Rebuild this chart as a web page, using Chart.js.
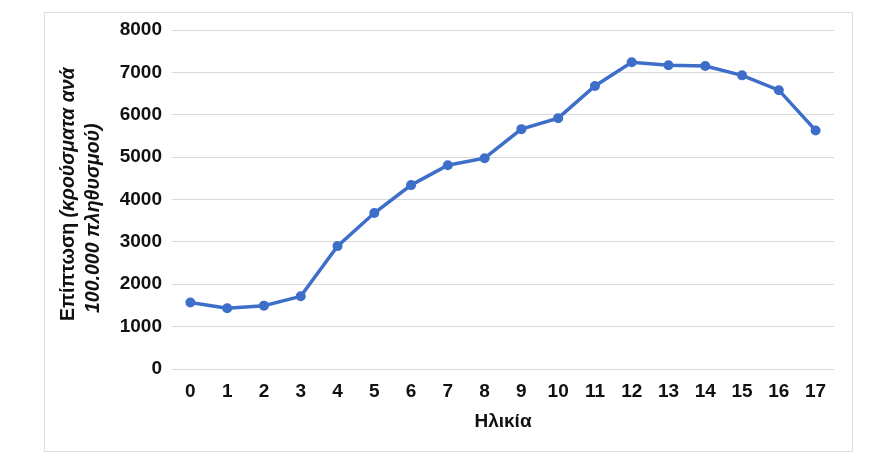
<!DOCTYPE html>
<html>
<head>
<meta charset="utf-8">
<script src="https://cdn.jsdelivr.net/npm/chart.js@4/dist/chart.umd.min.js"></script>
<style>
  body { margin: 0; background: #fff; }
  #wrap { position: relative; width: 894px; height: 454px; }
  #frame { position: absolute; left: 44px; top: 12px; width: 807px; height: 438px; border: 1px solid #dedede; }
  #wrap canvas { position: absolute; left: 0; top: 0; }
</style>
</head>
<body>
<div id="wrap">
  <div id="frame"></div>
  <canvas id="myChart"></canvas>
</div>
<script>
const ages = ['0','1','2','3','4','5','6','7','8','9','10','11','12','13','14','15','16','17'];
const incidence = [1570, 1435, 1495, 1715, 2900, 3680, 4340, 4810, 4975, 5660, 5920, 6680, 7240, 7170, 7150, 6930, 6580, 5630];
const yTicks = [0, 1000, 2000, 3000, 4000, 5000, 6000, 7000, 8000];

const xTitle = 'Ηλικία';
const yTitleStart = 'Επίπτωση ';
const yTitleRest = '(κρούσματα ανά';
const yTitleLine2 = '100.000 πληθυσμού)';

const blue = '#3d6ec9';
const tickFont = { family: 'Liberation Sans', size: 19, weight: 'bold' };

// y axis title has mixed upright / italic parts, so draw it by hand
const yTitlePlugin = {
  id: 'yTitle',
  afterDraw(chart) {
    const ctx = chart.ctx;
    ctx.save();
    ctx.fillStyle = '#111';
    ctx.textBaseline = 'middle';
    ctx.textAlign = 'left';

    ctx.translate(69, 321);
    ctx.rotate(-Math.PI / 2);
    ctx.font = 'bold 19.5px "Liberation Sans"';
    ctx.fillText(yTitleStart, 0, 0);
    const w = ctx.measureText(yTitleStart).width;
    ctx.font = 'italic bold 19.5px "Liberation Sans"';
    ctx.fillText(yTitleRest, w, 0);
    ctx.restore();

    ctx.save();
    ctx.fillStyle = '#111';
    ctx.textBaseline = 'middle';
    ctx.textAlign = 'left';
    ctx.translate(94, 313);
    ctx.rotate(-Math.PI / 2);
    ctx.font = 'italic bold 19.5px "Liberation Sans"';
    ctx.fillText(yTitleLine2, 0, 0);
    ctx.restore();
  }
};

new Chart(document.getElementById('myChart').getContext('2d'), {
  type: 'line',
  data: {
    labels: ages,
    datasets: [
      {
        data: incidence,
        borderColor: blue,
        backgroundColor: blue,
        borderWidth: 3.5,
        pointRadius: 5,
        pointBorderWidth: 0,
        pointBackgroundColor: blue,
        tension: 0,
        fill: false
      }
    ]
  },
  options: {
    responsive: true,
    maintainAspectRatio: false,
    animation: false,
    layout: {
      padding: { left: 0, right: 60, top: 30, bottom: 0 }
    },
    plugins: {
      legend: { display: false },
      tooltip: { enabled: false }
    },
    scales: {
      x: {
        offset: true,
        grid: { display: false, drawTicks: false },
        border: { display: false },
        ticks: { color: '#111', font: tickFont, padding: 11, maxRotation: 0 },
        title: {
          display: true,
          text: xTitle,
          color: '#111',
          font: { family: 'Liberation Sans', size: 19, weight: 'bold' },
          padding: { top: 0, bottom: 21 }
        },
        afterFit(scale) { scale.height = 85; }
      },
      y: {
        min: 0,
        max: 8000,
        afterBuildTicks(scale) { scale.ticks = yTicks.map(v => ({ value: v })); },
        grid: { color: '#dadada', lineWidth: 1, drawTicks: false },
        border: { display: false },
        ticks: { color: '#111', font: tickFont, padding: 10, callback: (v) => String(v) },
        afterFit(scale) { scale.width = 172; }
      }
    }
  },
  plugins: [yTitlePlugin]
});
</script>
</body>
</html>
